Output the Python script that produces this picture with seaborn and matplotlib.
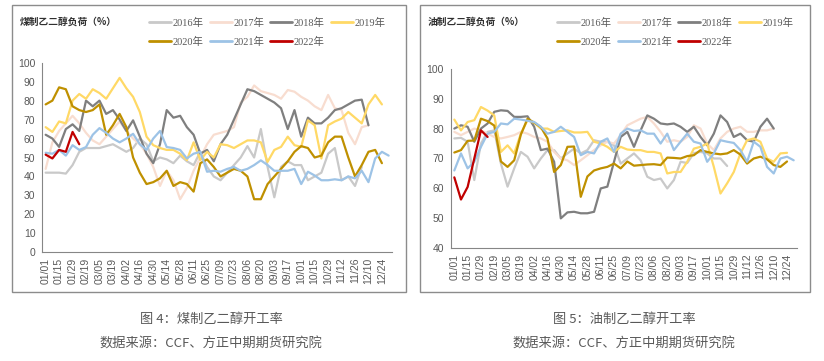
import numpy as np
import pandas as pd
import matplotlib
matplotlib.use('Agg')
import matplotlib.pyplot as plt
import seaborn as sns
from matplotlib.patches import Rectangle

# weekly categories (labels shown every other week)
weeks = ['01/01', '01/08', '01/15', '01/22', '01/29', '02/05', '02/19', '02/26',
         '03/05', '03/12', '03/19', '03/26', '04/02', '04/09', '04/16', '04/23',
         '04/30', '05/07', '05/14', '05/21', '05/28', '06/04', '06/11', '06/18',
         '06/25', '07/02', '07/09', '07/16', '07/23', '07/30', '08/06', '08/13',
         '08/20', '08/27', '09/03', '09/10', '09/17', '09/24', '10/01', '10/08',
         '10/15', '10/22', '10/29', '11/05', '11/12', '11/19', '11/26', '12/03',
         '12/10', '12/17', '12/24', '12/31']

years = ['2016年', '2017年', '2018年', '2019年', '2020年', '2021年', '2022年']
colors = ['#c9c9c9', '#f8ddd0', '#7f7f7f', '#ffd966', '#bf9000', '#9dc3e6', '#c00000']

# coal-based MEG load (%)
coal_2016 = [42, 42, 42, 41.5, 46, 53, 55, 55, 55, 56, 57, 55, 53, 55, 60, 57, 48, 50, 49, 47,
             51, 48, 46, 53, 45, 40, 38, 42, 46, 50, 56, 50, 65, 45, 29, 45, 48, 46, 46, 38,
             40, 42, 52, 55, 38, 40, 35, 45]
coal_2017 = [44, 58, 64, 68, 72, 68, 63, 59, 57, 61, 65, 69, 64, 60, 57, 52, 45, 35, 43, 38,
             28, 34, 43, 50, 57, 62, 63, 64, 66, 79, 82, 88, 85, 84, 83, 81, 85.6, 84.7, 82, 80,
             77, 75, 83, 76, 75, 63, 57, 66, 67]
coal_2018 = [62, 60, 55.6, 65, 67.5, 64, 80, 77, 80, 73, 75, 70, 64, 69.6, 61, 52, 47, 57, 75, 71,
             72, 66, 62, 52, 54, 48, 57, 62, 70, 78, 86, 85, 83, 81, 79, 76, 65, 75, 61, 71,
             68, 68, 71, 75, 76, 78, 80, 80.5, 67]
coal_2019 = [66, 63.5, 69, 68, 80, 83.5, 81, 86, 84, 81, 86.5, 92, 86.5, 82, 74, 61, 56.5, 55, 54, 54,
             52, 48.6, 58, 48.6, 53, 50, 57, 56.5, 55, 57, 59, 59, 58, 47.7, 54, 55.6, 61, 56.5, 55.6, 69.6,
             67, 49.5, 67, 69, 70.5, 74, 71, 68, 78, 83, 78]
coal_2020 = [78, 80, 87, 86, 77, 75, 74, 75, 78, 62, 67, 73, 66, 50, 42, 36, 37, 39, 43, 35,
             37, 36, 32, 47, 49, 45, 40, 42, 44, 43, 40, 28, 28, 36, 40, 44, 48, 53, 56, 55,
             50, 51, 58, 61, 61, 50, 40, 46, 53, 54, 47]
coal_2021 = [52.5, 52, 54, 51, 56.5, 54, 55.5, 62, 65.5, 63, 60, 58, 60, 62.5, 57, 54, 60, 64, 55.5, 55,
             54, 49.5, 52, 53, 42.5, 43, 42.5, 44, 45, 43, 44, 46, 48.5, 46, 43, 43, 43, 44, 36, 42.5,
             40.5, 38, 38, 38.5, 38, 40, 39, 43, 37, 49.5, 53, 51]
coal_2022 = [51.5, 49.5, 54, 53, 63.5, 57]

# oil-based MEG load (%)
oil_2016 = [76.7, 76.9, 75.6, 62.8, 75, 78.9, 79.4, 68.3, 60.6, 66.7, 72.2, 70.6, 66.7, 70, 72.8, 72.8,
            70, 71.7, 73.3, 71.7, 72.8, 76.1, 75.6, 75.6, 74.4, 68.3, 70, 71.7, 69.4, 63.9, 62.8, 63.3,
            60, 62.8, 68.9, 68.5, 71.8, 72.2, 71.7, 70, 70, 67.5]
oil_2017 = [78.9, 77.8, 78.9, 80, 79.4, 78.3, 77.2, 76.7, 77.2, 77.8, 78.9, 78.3, 77.2, 76.7, 75.6, 72.2,
            70, 69.4, 67.8, 69.4, 71.1, 72.8, 74.4, 75.6, 75, 77.8, 81.1, 82.2, 83.3, 83.9, 81.7, 78.9,
            75.6, 76.1, 75.6, 77.2, 81.1, 80, 75, 72.8, 76.7, 78.9, 80, 80.6, 78.9, 78.9, 79.4, 79.4, 80]
oil_2018 = [80, 81.1, 80.6, 75.6, 80, 81.7, 85.6, 86.1, 85.9, 83.9, 83.9, 84.1, 80.6, 72.8, 73.3, 68.9,
            50, 52, 52.2, 51.7, 51.7, 52.2, 60, 60.6, 68.9, 77.2, 78.9, 73.9, 79.4, 84.4, 83.3, 81.7,
            81.4, 81.7, 80.6, 78.9, 80.6, 77.2, 74.4, 78.3, 84.4, 82.2, 77.2, 78.3, 76.1, 75.6, 80.6, 83.3, 80]
oil_2019 = [83, 79.4, 82.2, 82.8, 87.2, 86, 84.4, 72.2, 74.4, 71.7, 78.3, 82.8, 81.9, 80, 80, 78.9,
            79.2, 79.4, 78.7, 78.7, 78.9, 75.6, 75, 73.9, 72.2, 73.9, 73, 72.8, 72.8, 72.2, 72.2, 71.7,
            65, 65.5, 65.5, 68.9, 73.3, 73.9, 75, 67.2, 58.3, 61.7, 65.5, 71.7, 76.1, 76.7, 75.6, 70,
            68.9, 71.7, 71.9]
oil_2020 = [72, 72.8, 75.9, 76, 83.3, 82.5, 81, 69, 67.2, 69.4, 78, 83.3, 82, 80.5, 76.7, 65.5,
            67.8, 73.9, 74, 57.2, 64, 66, 66.7, 67.2, 68.3, 66.7, 69, 67.6, 67.8, 68, 68.1, 67.8,
            70.3, 70.2, 70, 70.8, 71.1, 72.8, 72.2, 71.7, 71.4, 71.7, 72.8, 71.3, 68.3, 70, 70.6, 69.7,
            67.8, 67.2, 69]
oil_2021 = [66, 71.7, 66.7, 68.9, 73.9, 78.3, 78.9, 81.7, 81.4, 83.3, 83, 82.6, 82.2, 80.6, 78.3, 78.9,
            80.6, 78.9, 77.2, 71.1, 72.2, 71.7, 75.6, 76.7, 72.2, 78.3, 80, 79.2, 79.4, 78.3, 78.3, 75,
            78.3, 72.8, 75.6, 78.3, 75.6, 75, 68.9, 71.7, 76.1, 75.6, 75.2, 72.8, 68.9, 75.6, 73.9, 67.2,
            65, 70, 70.6, 69.4]
oil_2022 = [63.7, 56.3, 60.5, 70, 79.4, 77.2]

coal = [coal_2016, coal_2017, coal_2018, coal_2019, coal_2020, coal_2021, coal_2022]
oil = [oil_2016, oil_2017, oil_2018, oil_2019, oil_2020, oil_2021, oil_2022]


def to_long(series):
    rows = []
    for year, vals in zip(years, series):
        for i, v in enumerate(vals):
            rows.append({'week': i, 'year': year, 'load': v})
    return pd.DataFrame(rows)


sns.set_style('white')
plt.rcParams['font.family'] = ['Liberation Serif', 'Noto Sans CJK SC', 'DejaVu Sans']

fig = plt.figure(figsize=(8.24, 3.61), dpi=100)
W, H = 824, 361

# outer frames
for x0, x1 in [(11.7, 405.7), (420.3, 810)]:
    fig.patches.append(Rectangle((x0 / W, 1 - 292.3 / H), (x1 - x0) / W, (292.3 - 5) / H,
                                 transform=fig.transFigure, fill=False,
                                 edgecolor='#8c8c8c', linewidth=1))

panels = [
    dict(data=coal, rect=[42.3 / W, 1 - 252.3 / H, (392 - 42.3) / W, (252.3 - 62.7) / H],
         ylim=(0, 100), yticks=range(0, 101, 10), title='煤制乙二醇负荷（%）', tx=20,
         lx=149, cap='图 4：煤制乙二醇开工率', cx=211),
    dict(data=oil, rect=[451 / W, 1 - 248.3 / H, (797 - 451) / W, (248.3 - 68.7) / H],
         ylim=(40, 100), yticks=range(40, 101, 10), title='油制乙二醇负荷（%）', tx=428,
         lx=557, cap='图 5：油制乙二醇开工率', cx=624),
]

for p in panels:
    ax = fig.add_axes(p['rect'])
    df = to_long(p['data'])
    sns.lineplot(data=df, x='week', y='load', hue='year', palette=dict(zip(years, colors)),
                 linewidth=1.6, ax=ax, legend=False)
    ax.set_xlim(-0.5, len(weeks) - 0.5)
    ax.set_ylim(*p['ylim'])
    ax.set_yticks(list(p['yticks']))
    ax.set_xticks(range(0, len(weeks), 2))
    ax.set_xticklabels(weeks[::2], rotation=90)
    ax.set_xticks(np.arange(-0.5, len(weeks), 2), minor=True)
    ax.tick_params(axis='x', which='major', length=0, pad=4)
    ax.tick_params(axis='x', which='minor', length=3, width=0.8, color='#868686', direction='out')
    ax.tick_params(axis='y', length=3, width=0.8, color='#868686', direction='out', pad=2)
    for lab in ax.get_xticklabels() + ax.get_yticklabels():
        lab.set_fontfamily(['Liberation Sans Narrow', 'Liberation Sans'])
        lab.set_fontsize(7.5)
        lab.set_color('#595959')
    ax.set_xlabel('')
    ax.set_ylabel('')
    for s in ['top', 'right']:
        ax.spines[s].set_visible(False)
    for s in ['left', 'bottom']:
        ax.spines[s].set_color('#868686')
        ax.spines[s].set_linewidth(0.8)

    # title at top-left of panel
    fig.text(p['tx'] / W, 1 - 22 / H, p['title'], fontsize=7, fontweight='bold',
             family=['Noto Sans CJK SC'], va='center', ha='left', color='#303030')

    # legend, row-major order in 4 columns
    handles = [plt.Line2D([], [], color=c, linewidth=2) for c in colors]
    order = [0, 4, 1, 5, 2, 6, 3]
    fig.legend([handles[i] for i in order], [years[i] for i in order], ncol=4,
               loc='upper left', bbox_to_anchor=(p['lx'] / W, 1 - 18 / H), frameon=False,
               fontsize=7.5, handlelength=2.1, handletextpad=0.15, columnspacing=0.6,
               labelspacing=0.85, borderpad=0, borderaxespad=0, labelcolor='#595959')

    fig.text(p['cx'] / W, 1 - 319 / H, p['cap'], fontsize=9.5, ha='center', va='center',
             color='#595959', family=['Noto Sans CJK SC'], fontweight='light')
    fig.text(p['cx'] / W, 1 - 344 / H, '数据来源：CCF、方正中期期货研究院', fontsize=9.5,
             ha='center', va='center', color='#595959', family=['Noto Sans CJK SC'],
             fontweight='light')

fig.savefig('out.png', dpi=100)
